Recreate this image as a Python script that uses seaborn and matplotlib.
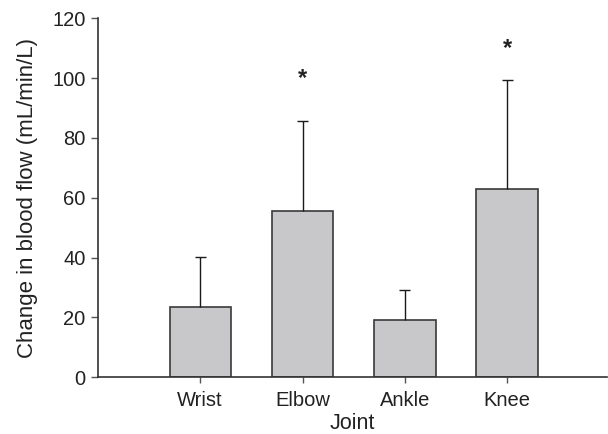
import matplotlib
matplotlib.use("Agg")
import matplotlib.pyplot as plt
import seaborn as sns
import numpy as np
import pandas as pd

# Mean change in blood flow per joint, with upper SD
joints = ["Wrist", "Elbow", "Ankle", "Knee"]
means = [23.5, 55.5, 19.2, 62.8]
sd = [16.8, 30.3, 10.1, 36.5]
# significance markers (joint, y position)
sig_joints = ["Elbow", "Knee"]
sig_y = [100, 110]
y_ticks = [0, 20, 40, 60, 80, 100, 120]

sns.set_style("ticks")
plt.rcParams["font.family"] = ["Liberation Sans", "DejaVu Sans"]

fig = plt.figure(figsize=(6.08, 4.34), dpi=100)
ax = fig.add_axes([0.161, 0.131, 0.838, 0.827])

df = pd.DataFrame({"Joint": joints, "Flow": means})
sns.barplot(data=df, x="Joint", y="Flow", color="#c8c8ca", saturation=1,
            edgecolor="#3a3a3a", linewidth=1.2, width=0.6, ax=ax)

# upper-only error bars: stem from bar top, cap at mean + SD
pos = np.arange(len(joints))
tops = np.array(means) + np.array(sd)
cap_half = 0.055
ax.vlines(pos, means, tops, color="#1a1a1a", linewidth=1.0, zorder=1)
ax.hlines(tops, pos - cap_half, pos + cap_half, color="#1a1a1a",
          linewidth=1.0, zorder=1)

for j, y in zip(sig_joints, sig_y):
    ax.text(joints.index(j), y, "*", ha="center", va="center",
            fontsize=17, fontweight="bold", color="#222222")

ax.set_xlim(-1, 3.98)
ax.set_ylim(0, 120)
ax.set_yticks(y_ticks)
ax.set_xlabel("Joint", fontsize=15.5, color="#222222", labelpad=2)
ax.set_ylabel("Change in blood flow (mL/min/L)", fontsize=16,
              color="#222222", labelpad=10)
ax.tick_params(axis="both", labelsize=14.5, colors="#222222",
               width=1.0, direction="out")
ax.tick_params(axis="y", length=5, pad=4)
ax.tick_params(axis="x", length=4, pad=6)
ax.tick_params(axis="both", color="#555555")
for s in ["top", "right"]:
    ax.spines[s].set_visible(False)
for s in ["left", "bottom"]:
    ax.spines[s].set_color("#333333")
    ax.spines[s].set_linewidth(1.2)

fig.savefig("out.png", dpi=100)
